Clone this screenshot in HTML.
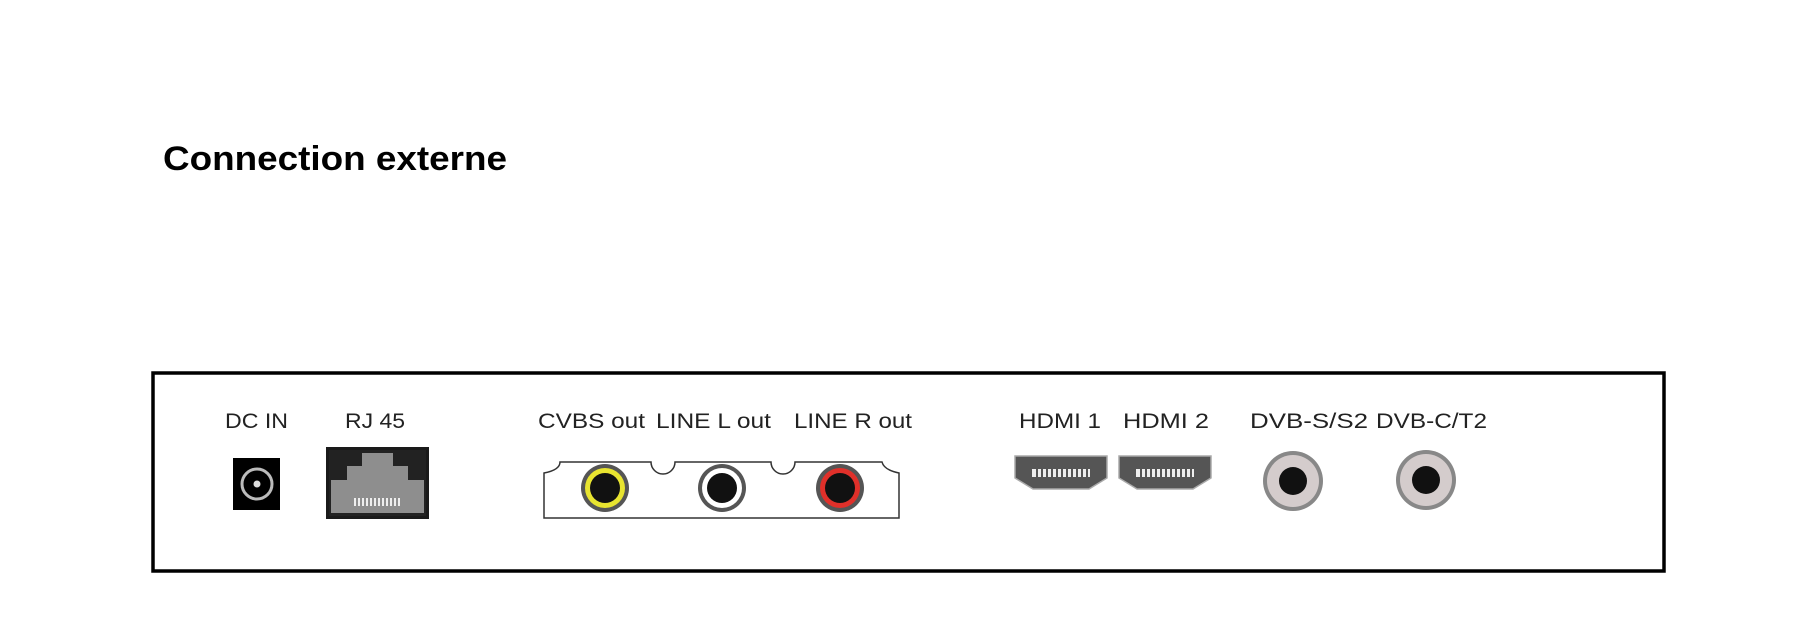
<!DOCTYPE html>
<html><head><meta charset="utf-8"><style>html,body{margin:0;padding:0;background:#fff}svg{display:block}</style></head>
<body>
<svg width="1801" height="627" viewBox="0 0 1801 627" xmlns="http://www.w3.org/2000/svg">
<rect width="1801" height="627" fill="#fff"/>
<text x="163" y="170" font-family="Liberation Sans, sans-serif" font-weight="bold" font-size="34" textLength="344" lengthAdjust="spacingAndGlyphs" fill="#000">Connection externe</text>
<rect x="153" y="373" width="1511" height="198" fill="none" stroke="#000" stroke-width="3.5"/>
<g font-family="Liberation Sans, sans-serif" font-size="21" fill="#222" lengthAdjust="spacingAndGlyphs">
<text x="225" y="428" textLength="63" lengthAdjust="spacingAndGlyphs">DC IN</text>
<text x="345" y="428" textLength="60" lengthAdjust="spacingAndGlyphs">RJ 45</text>
<text x="538" y="428" textLength="107" lengthAdjust="spacingAndGlyphs">CVBS out</text>
<text x="656" y="428" textLength="115" lengthAdjust="spacingAndGlyphs">LINE L out</text>
<text x="794" y="428" textLength="118" lengthAdjust="spacingAndGlyphs">LINE R out</text>
<text x="1019" y="428" textLength="82" lengthAdjust="spacingAndGlyphs">HDMI 1</text>
<text x="1123" y="428" textLength="86" lengthAdjust="spacingAndGlyphs">HDMI 2</text>
<text x="1250" y="428" textLength="118" lengthAdjust="spacingAndGlyphs">DVB-S/S2</text>
<text x="1376" y="428" textLength="111" lengthAdjust="spacingAndGlyphs">DVB-C/T2</text>
</g>
<!-- DC IN -->
<rect x="233" y="458" width="47" height="52" fill="#000"/>
<circle cx="257" cy="484" r="15" fill="none" stroke="#bbb" stroke-width="3"/>
<circle cx="257" cy="484" r="3.5" fill="#ddd"/>
<!-- RJ45 -->
<rect x="326" y="447" width="103" height="72" fill="#1a1a1a"/>
<rect x="329" y="450" width="97" height="66" fill="#222"/>
<path d="M331 480 H347 V466 H362 V453 H393 V466 H408 V480 H424 V513 H331 Z" fill="#8e8e8e"/>
<g fill="#eee"><rect x="354" y="498" width="2" height="8"/><rect x="358" y="498" width="2" height="8"/><rect x="362" y="498" width="2" height="8"/><rect x="366" y="498" width="2" height="8"/><rect x="370" y="498" width="2" height="8"/><rect x="374" y="498" width="2" height="8"/><rect x="378" y="498" width="2" height="8"/><rect x="382" y="498" width="2" height="8"/><rect x="386" y="498" width="2" height="8"/><rect x="390" y="498" width="2" height="8"/><rect x="394" y="498" width="2" height="8"/><rect x="398" y="498" width="2" height="8"/></g>
<!-- RCA panel -->
<path d="M544 518 V473 Q560 470 560 462 H651 A12 12 0 0 0 675 462 H771 A12 12 0 0 0 795 462 H882 Q884 470 899 473 V518 Z" fill="#fff" stroke="#333" stroke-width="1.5"/>
<circle cx="605" cy="488" r="24" fill="#555"/><circle cx="605" cy="488" r="20" fill="#e8e430"/><circle cx="605" cy="488" r="15" fill="#111"/>
<circle cx="722" cy="488" r="24" fill="#555"/><circle cx="722" cy="488" r="20" fill="#fff"/><circle cx="722" cy="488" r="15" fill="#111"/>
<circle cx="840" cy="488" r="24" fill="#555"/><circle cx="840" cy="488" r="20" fill="#e0302a"/><circle cx="840" cy="488" r="15" fill="#111"/>
<!-- HDMI -->
<g>
<path d="M1015 456 H1107 V478 L1089 489 H1033 L1015 478 Z" fill="#555" stroke="#aaa" stroke-width="1.5"/>
<rect x="1032" y="469" width="58" height="8" fill="#eee"/>
<g fill="#555"><rect x="1036" y="469" width="2" height="8"/><rect x="1041" y="469" width="2" height="8"/><rect x="1046" y="469" width="2" height="8"/><rect x="1051" y="469" width="2" height="8"/><rect x="1056" y="469" width="2" height="8"/><rect x="1061" y="469" width="2" height="8"/><rect x="1066" y="469" width="2" height="8"/><rect x="1071" y="469" width="2" height="8"/><rect x="1076" y="469" width="2" height="8"/><rect x="1081" y="469" width="2" height="8"/><rect x="1086" y="469" width="2" height="8"/></g>
</g>
<g transform="translate(104,0)">
<path d="M1015 456 H1107 V478 L1089 489 H1033 L1015 478 Z" fill="#555" stroke="#aaa" stroke-width="1.5"/>
<rect x="1032" y="469" width="58" height="8" fill="#eee"/>
<g fill="#555"><rect x="1036" y="469" width="2" height="8"/><rect x="1041" y="469" width="2" height="8"/><rect x="1046" y="469" width="2" height="8"/><rect x="1051" y="469" width="2" height="8"/><rect x="1056" y="469" width="2" height="8"/><rect x="1061" y="469" width="2" height="8"/><rect x="1066" y="469" width="2" height="8"/><rect x="1071" y="469" width="2" height="8"/><rect x="1076" y="469" width="2" height="8"/><rect x="1081" y="469" width="2" height="8"/><rect x="1086" y="469" width="2" height="8"/></g>
</g>
<!-- DVB -->
<circle cx="1293" cy="481" r="30" fill="#888"/><circle cx="1293" cy="481" r="26" fill="#d4cccc"/><circle cx="1293" cy="481" r="14" fill="#111"/>
<circle cx="1426" cy="480" r="30" fill="#888"/><circle cx="1426" cy="480" r="26" fill="#d4cccc"/><circle cx="1426" cy="480" r="14" fill="#111"/>
</svg>
</body></html>
